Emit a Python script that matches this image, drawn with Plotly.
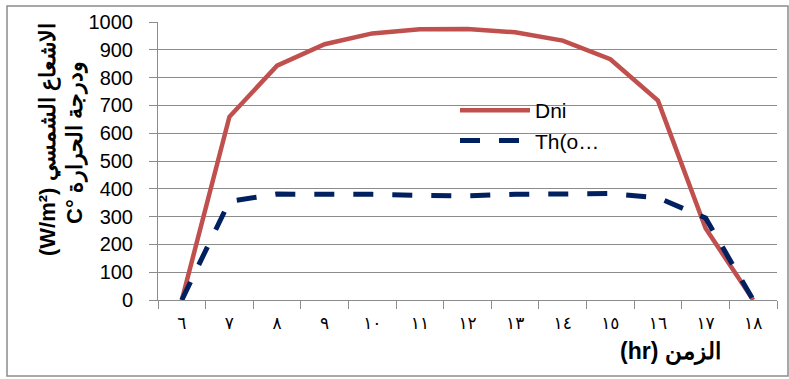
import plotly.graph_objects as go

hours = ["٦", "٧", "٨", "٩", "١٠", "١١", "١٢", "١٣", "١٤", "١٥", "١٦", "١٧", "١٨"]
dni = [0, 659, 843, 920, 959, 974, 975, 963, 933, 866, 717, 258, 0]
th = [0, 355, 381, 382, 380, 376, 375, 380, 381, 383, 368, 295, 0]

L, R, T, B = 158, 777, 22, 300
W, H = 789, 379

def px(x):
    return (x - L) / (R - L)

def py(y):
    return (B - y) / (B - T)

fig = go.Figure()
fig.add_trace(go.Scatter(x=hours, y=dni, mode="lines", name="Dni",
                         line=dict(color="#C0504D", width=4.5)))
fig.add_trace(go.Scatter(x=hours, y=th, mode="lines", name="Th(o…",
                         line=dict(color="#002060", width=5, dash="20px,19px")))

grid = "#8c8c8c"
fig.update_layout(
    width=W, height=H,
    margin=dict(l=L, r=W - R, t=T, b=H - B),
    paper_bgcolor="white", plot_bgcolor="white",
    font=dict(family="Arial, Liberation Sans", color="black"),
    showlegend=True,
    legend=dict(x=px(455), y=py(90), xanchor="left", yanchor="top",
                bgcolor="rgba(0,0,0,0)", font=dict(size=21), itemwidth=70,
                tracegroupgap=0),
    xaxis=dict(type="category", range=[-0.5, 12.5], tickson="boundaries",
               showgrid=False, showline=True, linecolor=grid, linewidth=1,
               ticks="outside", ticklen=8, tickcolor=grid,
               tickfont=dict(size=17, family="DejaVu Sans"), ticklabelstandoff=8),
    yaxis=dict(range=[0, 1000], dtick=100, showgrid=True, gridcolor=grid,
               gridwidth=1, showline=True, linecolor=grid, linewidth=1,
               ticks="outside", ticklen=8, tickcolor=grid,
               tickfont=dict(size=20), zeroline=False, ticklabelstandoff=12),
)

fig.add_annotation(xref="paper", yref="paper", x=px(48), y=py(140),
                   xanchor="center", yanchor="middle",
                   text="<b>(W/m²) الاشعاع الشمسي</b>", textangle=-90,
                   showarrow=False, font=dict(size=22))
fig.add_annotation(xref="paper", yref="paper", x=px(75), y=py(143),
                   xanchor="center", yanchor="middle",
                   text="<b>C° ودرجة الحرارة</b>", textangle=-90,
                   showarrow=False, font=dict(size=22))
fig.add_annotation(xref="paper", yref="paper", x=px(670), y=py(352),
                   xanchor="center", yanchor="middle",
                   text="<b>(hr) الزمن</b>", showarrow=False,
                   font=dict(size=23))

fig.add_shape(type="rect", xref="paper", yref="paper",
              x0=px(7), x1=px(788), y0=py(376), y1=py(6),
              line=dict(color="#8c8c8c", width=1.5), layer="below")

fig.write_html("out.html")
